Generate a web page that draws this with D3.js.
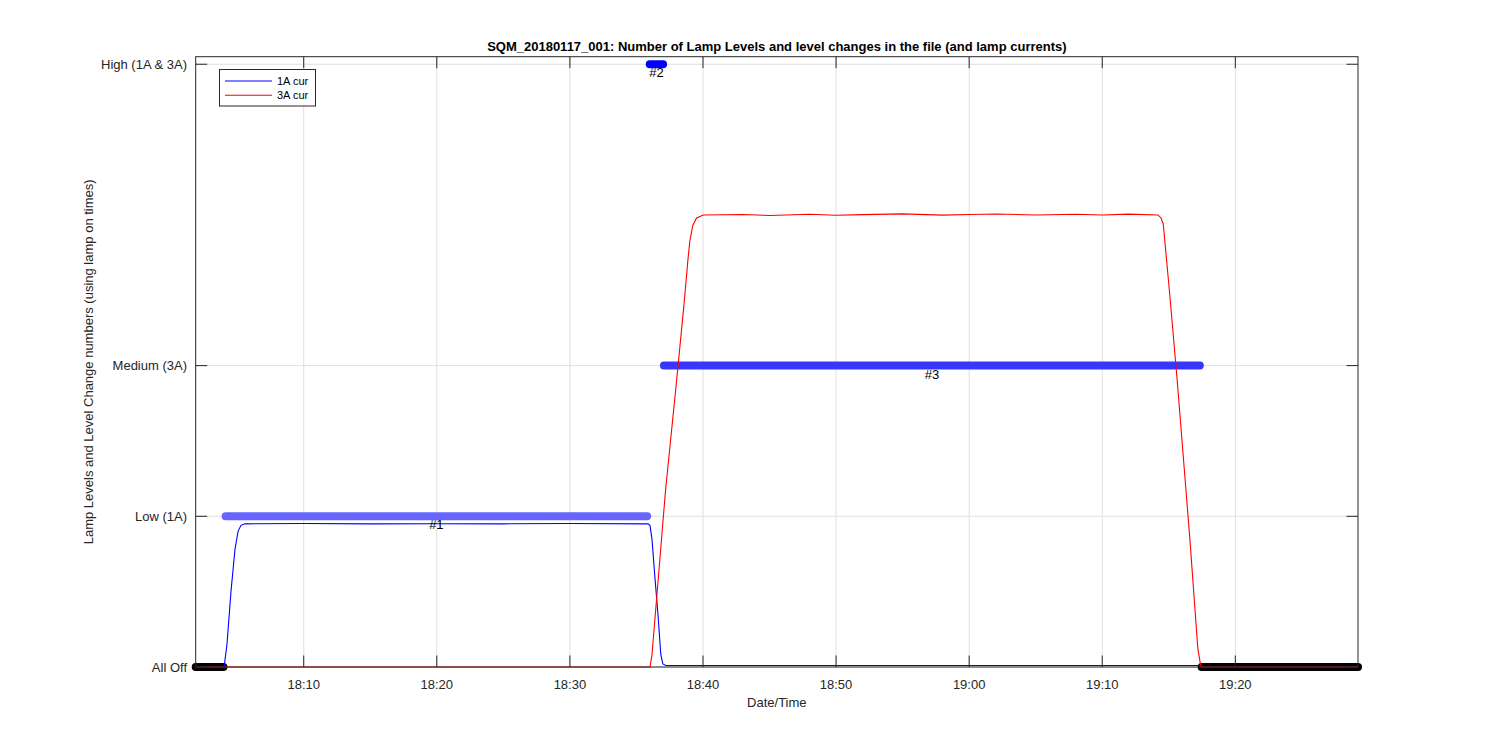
<!DOCTYPE html>
<html>
<head>
<meta charset="utf-8">
<script src="https://cdn.jsdelivr.net/npm/d3@7"></script>
<style>
  body { margin: 0; background: #fff; }
  svg { display: block; font-family: "Liberation Sans", Arial, Helvetica, sans-serif; }
</style>
</head>
<body>
<svg id="chart" width="1500" height="750"></svg>
<script>
// ---------------- DATA ----------------
const chartTitle = "SQM_20180117_001: Number of Lamp Levels and level changes in the file (and lamp currents)";
const xLabel = "Date/Time";
const yLabel = "Lamp Levels and Level Change numbers (using lamp on times)";
const dateStr = "2018-01-17";
const xStart = "18:01:53";
const xEnd = "19:29:13";
const xTickTimes = ["18:10","18:20","18:30","18:40","18:50","19:00","19:10","19:20"];
const yTickValues = [0, 1, 2, 4];
const yTickLabels = ["All Off", "Low (1A)", "Medium (3A)", "High (1A & 3A)"];
const yMax = 4.05;

// 1A current (scaled to level units)
const cur1Times = ["18:01:53","18:04:01","18:04:14","18:04:32","18:04:50","18:05:04","18:05:17","18:05:35",
  "18:10:00","18:15:00","18:20:00","18:25:00","18:30:00","18:35:52","18:36:01","18:36:10","18:36:23",
  "18:36:37","18:36:50","18:36:59","18:37:13","18:50:00","19:00:00","19:17:21","19:17:27","19:29:13"];
const cur1Values = [0,0,0.15,0.5,0.78,0.9,0.94,0.95,
  0.952,0.95,0.951,0.95,0.952,0.95,0.94,0.85,0.6,
  0.35,0.08,0.02,0.01,0.01,0.01,0.01,0,0];

// 3A current (scaled to level units)
const cur3Times = ["18:01:53","18:36:01","18:36:10","18:37:11","18:38:01","18:38:34","18:38:52","18:39:01",
  "18:39:14","18:39:31","18:40:01","18:43:00","18:45:00","18:48:00","18:50:00","18:52:00","18:55:00",
  "18:58:00","19:00:00","19:02:00","19:05:00","19:08:00","19:10:00","19:12:00","19:14:11","19:14:25",
  "19:14:35","19:15:05","19:15:38","19:16:35","19:17:11","19:17:25","19:29:13"];
const cur3Values = [0,0,0.08,1.17,1.90,2.4,2.7,2.83,
  2.93,2.98,3.0,3.003,2.996,3.004,2.998,3.002,3.007,
  2.999,3.003,3.006,3.0,3.004,3.0,3.005,3.0,2.98,
  2.94,2.46,1.90,0.85,0.12,0,0];

// Level-change segments
const segNames = ["#1", "#2", "#3"];
const segLevels = [1, 4, 2];
const segStart = ["18:04:08", "18:36:00", "18:37:04"];
const segEnd = ["18:35:48", "18:37:00", "19:17:20"];
const segColors = ["#6666ff", "#0000ff", "#3636ff"];

// All-off segments
const offStart = ["18:01:53", "19:17:28"];
const offEnd = ["18:03:58", "19:29:13"];

const legendLabels = ["1A cur", "3A cur"];
const legendColors = ["#0000ff", "#ff0000"];

// ---------------- DRAW ----------------
(function () {
const parse = d3.timeParse("%Y-%m-%d %H:%M:%S");
const parseHM = d3.timeParse("%Y-%m-%d %H:%M");
const T = s => s.length > 5 ? parse(dateStr + " " + s) : parseHM(dateStr + " " + s);

const pL = 195.7, pR = 1358, pT = 56.7, pB = 667;
const textColor = "#262626";
const fs = "13px";
const svg = d3.select("#chart");

const x = d3.scaleTime().domain([T(xStart), T(xEnd)]).range([pL, pR]);
const y = d3.scaleLinear().domain([0, yMax]).range([pB, pT]);

const xTicks = xTickTimes.map(T);

// grid
const grid = svg.append("g");
grid.selectAll("line.gx").data(xTicks).enter().append("line")
  .attr("x1", d => x(d)).attr("x2", d => x(d)).attr("y1", pT).attr("y2", pB)
  .attr("stroke", "#dfdfdf").attr("stroke-width", 1);
grid.selectAll("line.gy").data(yTickValues).enter().append("line")
  .attr("x1", pL).attr("x2", pR).attr("y1", d => y(d)).attr("y2", d => y(d))
  .attr("stroke", "#dfdfdf").attr("stroke-width", 1);

// all-off black segments
const offData = offStart.map((s, i) => ({ s: T(s), e: T(offEnd[i]) }));
svg.append("g").selectAll("line").data(offData).enter().append("line")
  .attr("x1", d => x(d.s)).attr("x2", d => x(d.e))
  .attr("y1", y(0)).attr("y2", y(0))
  .attr("stroke", "#000").attr("stroke-width", 8).attr("stroke-linecap", "round");

// level segments
const segData = segNames.map((n, i) => ({ n, lvl: segLevels[i], s: T(segStart[i]), e: T(segEnd[i]), c: segColors[i] }));
svg.append("g").selectAll("line").data(segData).enter().append("line")
  .attr("x1", d => x(d.s)).attr("x2", d => x(d.e))
  .attr("y1", d => y(d.lvl)).attr("y2", d => y(d.lvl))
  .attr("stroke", d => d.c).attr("stroke-width", 8).attr("stroke-linecap", "round");

// currents
const line = d3.line().x(d => x(d[0])).y(d => y(d[1]));
const c1 = cur1Times.map((t, i) => [T(t), cur1Values[i]]);
const c3 = cur3Times.map((t, i) => [T(t), cur3Values[i]]);
svg.append("path").attr("d", line(c1)).attr("fill", "none").attr("stroke", "#0000ff").attr("stroke-width", 1.1);
svg.append("path").attr("d", line(c3)).attr("fill", "none").attr("stroke", "#ff0000").attr("stroke-width", 1.1);

// segment labels
svg.append("g").selectAll("text").data(segData).enter().append("text")
  .attr("x", d => x(new Date((d.s.getTime() + d.e.getTime()) / 2)))
  .attr("y", d => y(d.lvl) + 13)
  .attr("text-anchor", "middle").attr("font-size", fs).attr("fill", "#000")
  .text(d => d.n);

// axes box
svg.append("rect").attr("x", pL).attr("y", pT).attr("width", pR - pL).attr("height", pB - pT)
  .attr("fill", "none").attr("stroke", textColor).attr("stroke-width", 1);

const tl = 11.5;
const axes = svg.append("g").attr("stroke", textColor).attr("stroke-width", 1);
xTicks.forEach(d => {
  axes.append("line").attr("x1", x(d)).attr("x2", x(d)).attr("y1", pB).attr("y2", pB - tl);
  axes.append("line").attr("x1", x(d)).attr("x2", x(d)).attr("y1", pT).attr("y2", pT + tl);
});
yTickValues.forEach(d => {
  axes.append("line").attr("x1", pL).attr("x2", pL + tl).attr("y1", y(d)).attr("y2", y(d));
  axes.append("line").attr("x1", pR).attr("x2", pR - tl).attr("y1", y(d)).attr("y2", y(d));
});

// tick labels
const fmt = d3.timeFormat("%H:%M");
svg.append("g").selectAll("text").data(xTicks).enter().append("text")
  .attr("x", d => x(d)).attr("y", 689)
  .attr("text-anchor", "middle").attr("font-size", fs).attr("fill", textColor)
  .text(d => fmt(d));
svg.append("g").selectAll("text").data(yTickValues).enter().append("text")
  .attr("x", 187).attr("y", d => y(d) + 4.5)
  .attr("text-anchor", "end").attr("font-size", fs).attr("fill", textColor)
  .text((d, i) => yTickLabels[i]);

// axis labels
svg.append("text").attr("x", (pL + pR) / 2).attr("y", 707)
  .attr("text-anchor", "middle").attr("font-size", fs).attr("fill", textColor).text(xLabel);
svg.append("text").attr("transform", `translate(93, ${(pT + pB) / 2}) rotate(-90)`)
  .attr("text-anchor", "middle").attr("font-size", fs).attr("fill", textColor).text(yLabel);

// title
svg.append("text").attr("x", (pL + pR) / 2).attr("y", 51)
  .attr("text-anchor", "middle").attr("font-size", "13px").attr("font-weight", "bold").attr("fill", "#000")
  .text(chartTitle);

// legend
const lg = svg.append("g");
lg.append("rect").attr("x", 219.5).attr("y", 69.5).attr("width", 96).attr("height", 36.5)
  .attr("fill", "#fff").attr("stroke", textColor).attr("stroke-width", 1);
legendLabels.forEach((lab, i) => {
  const yy = 81 + i * 14.3;
  lg.append("line").attr("x1", 225).attr("x2", 272).attr("y1", yy).attr("y2", yy)
    .attr("stroke", legendColors[i]).attr("stroke-width", 1.1);
  lg.append("text").attr("x", 277).attr("y", yy + 4).attr("font-size", "11px").attr("fill", "#000").text(lab);
});
})();
</script>
</body>
</html>
